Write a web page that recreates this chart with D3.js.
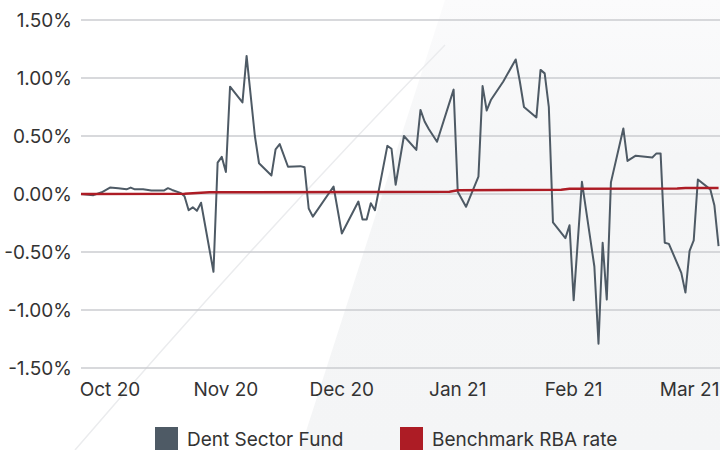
<!DOCTYPE html>
<html>
<head>
<meta charset="utf-8">
<script src="https://cdn.jsdelivr.net/npm/d3@7"></script>
<style>
  body { margin: 0; background: #fff; }
  svg { display: block; font-family: Inter, Roboto, sans-serif; }
</style>
</head>
<body>
<svg class="chart"></svg>
<script>
// Chart size.
var width = 720, height = 450;

// Fund series: day index and daily return (%).
var fundDays = [0, 3, 5, 7, 9, 11, 12, 13, 15, 17, 20, 21, 22, 24, 25, 26, 27, 28, 29, 32,
    33, 34, 35, 36, 39, 40, 42, 43, 46, 47, 48, 50, 53, 54, 55, 56, 61, 63, 67, 68,
    69, 70, 71, 74, 75, 76, 78, 81, 82, 83, 84, 86, 90, 91, 93, 96, 97, 98, 99, 102,
    105, 106, 107, 110, 111, 112, 113, 114, 117, 118, 119, 121, 124, 125, 126, 127, 128, 131, 132, 134,
    138, 139, 140, 141, 142, 145, 146, 147, 148, 149, 152, 153, 154];
var fundValues = [0, -0.01, 0.015, 0.055, 0.05, 0.04, 0.055, 0.04, 0.04, 0.03, 0.03, 0.05, 0.035, 0.01, -0.02, -0.14, -0.115, -0.145, -0.075, -0.67,
    0.27, 0.32, 0.19, 0.925, 0.79, 1.19, 0.5, 0.265, 0.16, 0.385, 0.43, 0.235, 0.24, 0.23, -0.125, -0.195, 0.065, -0.34, -0.065, -0.22,
    -0.22, -0.08, -0.14, 0.415, 0.39, 0.08, 0.5, 0.38, 0.725, 0.625, 0.56, 0.45, 0.9, 0.02, -0.11, 0.15, 0.93, 0.72, 0.81, 0.97,
    1.16, 0.97, 0.75, 0.66, 1.07, 1.04, 0.75, -0.245, -0.38, -0.27, -0.915, 0.105, -0.625, -1.29, -0.42, -0.91, 0.1, 0.565, 0.285, 0.33,
    0.315, 0.35, 0.35, -0.42, -0.43, -0.68, -0.85, -0.49, -0.4, 0.125, 0.04, -0.1, -0.45];

// Benchmark series.
var rbaDays = [0, 25, 31, 89, 91, 116, 118, 144, 146, 154];
var rbaValues = [0, 0.003, 0.015, 0.02, 0.033, 0.036, 0.045, 0.047, 0.052, 0.052];

// Axis ticks and labels.
var yTicks = [-1.5, -1, -0.5, 0, 0.5, 1, 1.5];
var xTickDays = [7, 35, 63, 91, 119, 147];
var xTickLabels = ["Oct 20", "Nov 20", "Dec 20", "Jan 21", "Feb 21", "Mar 21"];

var seriesNames = ["Dent Sector Fund", "Benchmark RBA rate"];
var seriesColors = ["#4e5a65", "#ad1c25"];

var svg = d3.select(".chart")
    .attr("width", width)
    .attr("height", height);

// Background decoration: soft grey panel on the right.
var grad = svg.append("defs").append("linearGradient")
    .attr("id", "bg")
    .attr("x1", 0).attr("y1", 0).attr("x2", 0).attr("y2", 1);
grad.append("stop").attr("offset", 0).attr("stop-color", "#fbfbfc");
grad.append("stop").attr("offset", 0.35).attr("stop-color", "#f5f6f7");
grad.append("stop").attr("offset", 1).attr("stop-color", "#f4f5f6");

svg.append("rect").attr("width", width).attr("height", height).attr("fill", "#ffffff");
svg.append("path")
    .attr("d", "M445,0 L720,0 L720,450 L300,450 Z")
    .attr("fill", "url(#bg)");
svg.append("path")
    .attr("d", "M75,450 Q260,235 445,45")
    .attr("fill", "none")
    .attr("stroke", "#ebecee")
    .attr("stroke-width", 1.5);

var x = d3.scaleLinear()
    .domain([0, 154])
    .range([81, 81 + 154 * 4.14]);

var y = d3.scaleLinear()
    .domain([-1.5, 1.5])
    .range([368, 20]);

// Gridlines.
svg.append("g")
    .selectAll("line")
    .data(yTicks)
    .enter()
    .append("line")
    .attr("x1", 81)
    .attr("x2", width)
    .attr("y1", function (d) { return y(d); })
    .attr("y2", function (d) { return y(d); })
    .attr("stroke", "#cbccd0")
    .attr("stroke-width", 1.5);

// Y labels, plain hyphen for negatives.
svg.append("g")
    .selectAll("text")
    .data(yTicks)
    .enter()
    .append("text")
    .attr("x", 72)
    .attr("y", function (d) { return y(d); })
    .attr("dy", "0.36em")
    .attr("text-anchor", "end")
    .attr("font-size", 19)
    .attr("fill", "#333")
    .text(function (d) { return d.toFixed(2) + "%"; });

// X labels.
svg.append("g")
    .selectAll("text")
    .data(xTickDays)
    .enter()
    .append("text")
    .attr("x", function (d) { return x(d); })
    .attr("y", 396)
    .attr("text-anchor", "middle")
    .attr("font-size", 19)
    .attr("fill", "#333")
    .text(function (d, i) { return xTickLabels[i]; });

var line = d3.line()
    .x(function (d) { return x(d[0]); })
    .y(function (d) { return y(d[1]); });

svg.append("path")
    .datum(d3.zip(fundDays, fundValues))
    .attr("d", line)
    .attr("fill", "none")
    .attr("stroke", seriesColors[0])
    .attr("stroke-width", 2)
    .attr("stroke-linejoin", "round");

svg.append("path")
    .datum(d3.zip(rbaDays, rbaValues))
    .attr("d", line)
    .attr("fill", "none")
    .attr("stroke", seriesColors[1])
    .attr("stroke-width", 2.5);

// Legend.
var legendX = [155, 400];
var legend = svg.append("g")
    .selectAll("g")
    .data(seriesNames)
    .enter()
    .append("g")
    .attr("transform", function (d, i) { return "translate(" + legendX[i] + ",427)"; });

legend.append("rect")
    .attr("width", 23)
    .attr("height", 23)
    .attr("fill", function (d, i) { return seriesColors[i]; });

legend.append("text")
    .attr("x", 32)
    .attr("y", 19)
    .attr("font-size", 19)
    .attr("fill", "#333")
    .text(function (d) { return d; });
</script>
</body>
</html>
